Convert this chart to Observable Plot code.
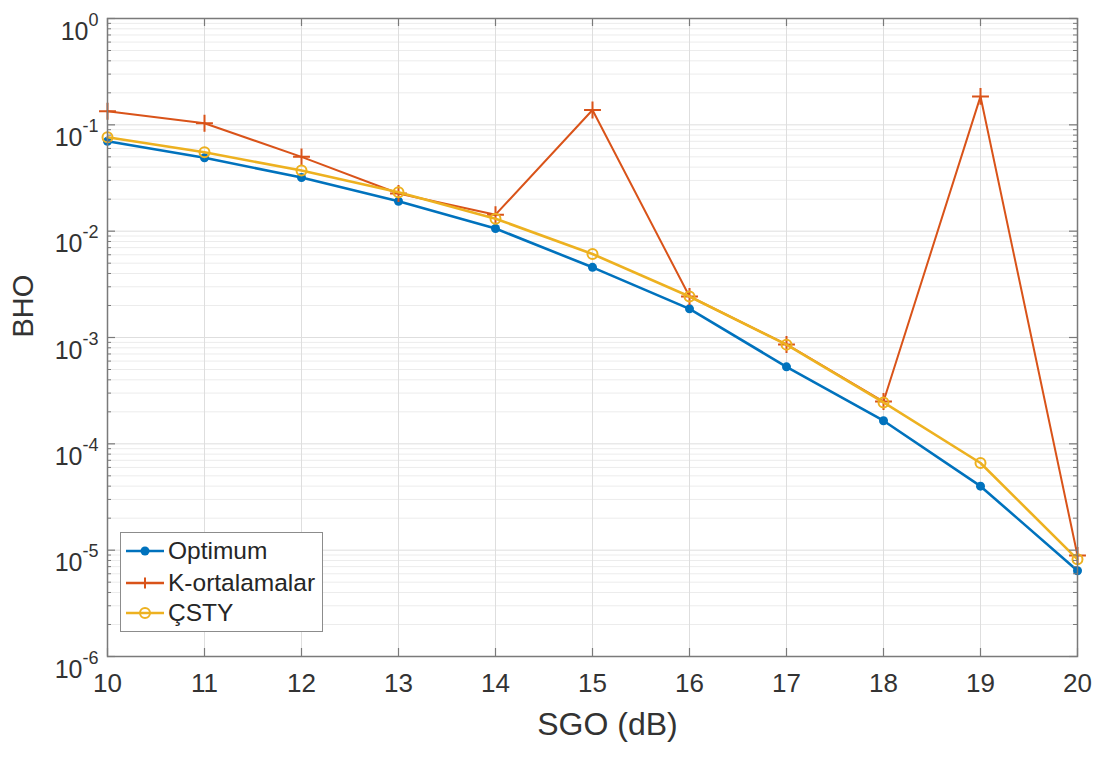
<!DOCTYPE html>
<html>
<head>
<meta charset="utf-8">
<script src="https://cdn.jsdelivr.net/npm/d3@7"></script>
<script src="https://cdn.jsdelivr.net/npm/@observablehq/plot@0.6"></script>
<style>
  body { margin: 0; background: #fff; }
  #wrap { position: relative; width: 1105px; height: 758px; font-family: "Liberation Sans", Arial, sans-serif; }
  #legend { position: absolute; left: 120px; top: 532px; width: 203px; height: 100px;
            border: 1.5px solid #8c8c8c; background: #fff; box-sizing: border-box; }
  .row { position: absolute; left: 5px; height: 30px; display: flex; align-items: center;
         font-size: 24.5px; color: #262626; white-space: nowrap; }
  .row svg { margin-right: 4px; }
</style>
</head>
<body>
<div id="wrap"></div>
<script>
// SNR values (dB) on the x axis
const sgo = [10, 11, 12, 13, 14, 15, 16, 17, 18, 19, 20];

// Bit error rate for each detector
const optimum      = [0.070, 0.049, 0.032, 0.0191, 0.0106, 0.00457, 0.00186, 5.3e-4, 1.65e-4, 4.0e-5, 6.4e-6];
const kOrtalamalar = [0.134, 0.1035, 0.050, 0.0226, 0.0143, 0.138, 0.00243, 8.6e-4, 2.5e-4, 0.185, 8.9e-6];
const csty         = [0.0764, 0.0552, 0.0372, 0.0232, 0.0131, 0.0061, 0.00243, 8.57e-4, 2.45e-4, 6.6e-5, 8.2e-6];

const seriesNames  = ["Optimum", "K-ortalamalar", "ÇSTY"];
const seriesColors = ["#0072BD", "#D95319", "#EDB120"];

// Decade exponents for the log axis labels
const yExponents = [0, -1, -2, -3, -4, -5, -6];

const W = 1105, H = 758, mL = 107, mR = 28, mT = 18, mB = 102;
const plotW = W - mL - mR, plotH = H - mT - mB;

const decades = yExponents.map(e => Math.pow(10, e));
const minor = [];
for (const e of yExponents.slice(1)) for (let k = 2; k <= 9; k++) minor.push(k * Math.pow(10, e));

const rows = (vals, name) => sgo.map((x, i) => ({x, y: vals[i], name}));
const optRows = rows(optimum, seriesNames[0]);
const kRows = rows(kOrtalamalar, seriesNames[1]);
const cRows = rows(csty, seriesNames[2]);

const axisColor = "#7a7a7a";
const textColor = "#333";

const chart = Plot.plot({
  width: W, height: H,
  marginLeft: mL, marginRight: mR, marginTop: mT, marginBottom: mB,
  style: {fontFamily: "'Liberation Sans', Arial, sans-serif", color: textColor, background: "#fff"},
  x: {domain: [10, 20]},
  y: {type: "log", domain: [1e-6, 1]},
  marks: [
    // grid
    Plot.gridY({ticks: minor, stroke: "#ececec", strokeOpacity: 1, strokeWidth: 1}),
    Plot.gridY({ticks: decades, stroke: "#dedede", strokeOpacity: 1, strokeWidth: 1}),
    Plot.gridX({ticks: sgo, stroke: "#dedede", strokeOpacity: 1, strokeWidth: 1}),
    // series
    Plot.line(optRows, {x: "x", y: "y", stroke: seriesColors[0], strokeWidth: 2.6}),
    Plot.dot(optRows, {x: "x", y: "y", r: 4.5, fill: seriesColors[0]}),
    Plot.line(kRows, {x: "x", y: "y", stroke: seriesColors[1], strokeWidth: 2}),
    Plot.dot(kRows, {x: "x", y: "y", r: 5.5, symbol: "plus", stroke: seriesColors[1], strokeWidth: 2}),
    Plot.line(cRows, {x: "x", y: "y", stroke: seriesColors[2], strokeWidth: 2.6}),
    Plot.dot(cRows, {x: "x", y: "y", r: 5, stroke: seriesColors[2], fill: "none", strokeWidth: 2}),
    // axes box
    Plot.frame({stroke: axisColor, strokeWidth: 1.5}),
    // inward ticks: bottom/top
    Plot.ruleX(sgo, {x: d => d, insetTop: plotH - 8, stroke: axisColor, strokeWidth: 1.2}),
    Plot.ruleX(sgo, {x: d => d, insetBottom: plotH - 8, stroke: axisColor, strokeWidth: 1.2}),
    // inward ticks: left/right major and minor
    Plot.ruleY(decades, {y: d => d, insetRight: plotW - 8, stroke: axisColor, strokeWidth: 1.2}),
    Plot.ruleY(decades, {y: d => d, insetLeft: plotW - 8, stroke: axisColor, strokeWidth: 1.2}),
    Plot.ruleY(minor, {y: d => d, insetRight: plotW - 4, stroke: axisColor, strokeWidth: 1}),
    Plot.ruleY(minor, {y: d => d, insetLeft: plotW - 4, stroke: axisColor, strokeWidth: 1}),
    // tick labels
    Plot.axisX({ticks: sgo, tickSize: 0, tickPadding: 17, tickFormat: d => String(d), fontSize: 26, label: null}),
    Plot.axisY({ticks: decades, tickSize: 0, tickPadding: 9, fontSize: 25, label: null,
                tickFormat: d => "10^" + Math.round(Math.log10(d))}),
    // axis titles
    Plot.text(["SGO (dB)"], {frameAnchor: "bottom", dy: 78, dx: 15, fontSize: 32, fill: textColor}),
    Plot.text(["BHO"], {frameAnchor: "left", dx: -84, rotate: -90, fontSize: 29, fill: textColor})
  ]
});

// Render y tick labels as 10 with a raised exponent
d3.select(chart).selectAll('g[aria-label="y-axis tick label"] text').each(function () {
  const [base, exp] = this.textContent.split("^");
  const t = d3.select(this);
  t.text(null).attr("dy", "0.52em");
  t.append("tspan").text(base);
  t.append("tspan").attr("dy", -14).attr("font-size", 18).text(exp);
});

const wrap = document.getElementById("wrap");
wrap.appendChild(chart);

// Legend box
const legend = document.createElement("div");
legend.id = "legend";
const rowTops = [3, 35, 65];
seriesNames.forEach((name, i) => {
  const row = document.createElement("div");
  row.className = "row";
  row.style.top = rowTops[i] + "px";
  const c = seriesColors[i];
  let marker;
  if (i === 0) marker = `<circle cx="19" cy="15" r="4.5" fill="${c}"/>`;
  else if (i === 1) marker = `<path d="M13.5,15H24.5M19,9.5V20.5" stroke="${c}" stroke-width="2"/>`;
  else marker = `<circle cx="19" cy="15" r="5" fill="none" stroke="${c}" stroke-width="2"/>`;
  row.innerHTML = `<svg width="38" height="30"><line x1="0" y1="15" x2="38" y2="15" stroke="${c}" stroke-width="2.5"/>${marker}</svg><span>${name}</span>`;
  legend.appendChild(row);
});
wrap.appendChild(legend);
</script>
</body>
</html>
